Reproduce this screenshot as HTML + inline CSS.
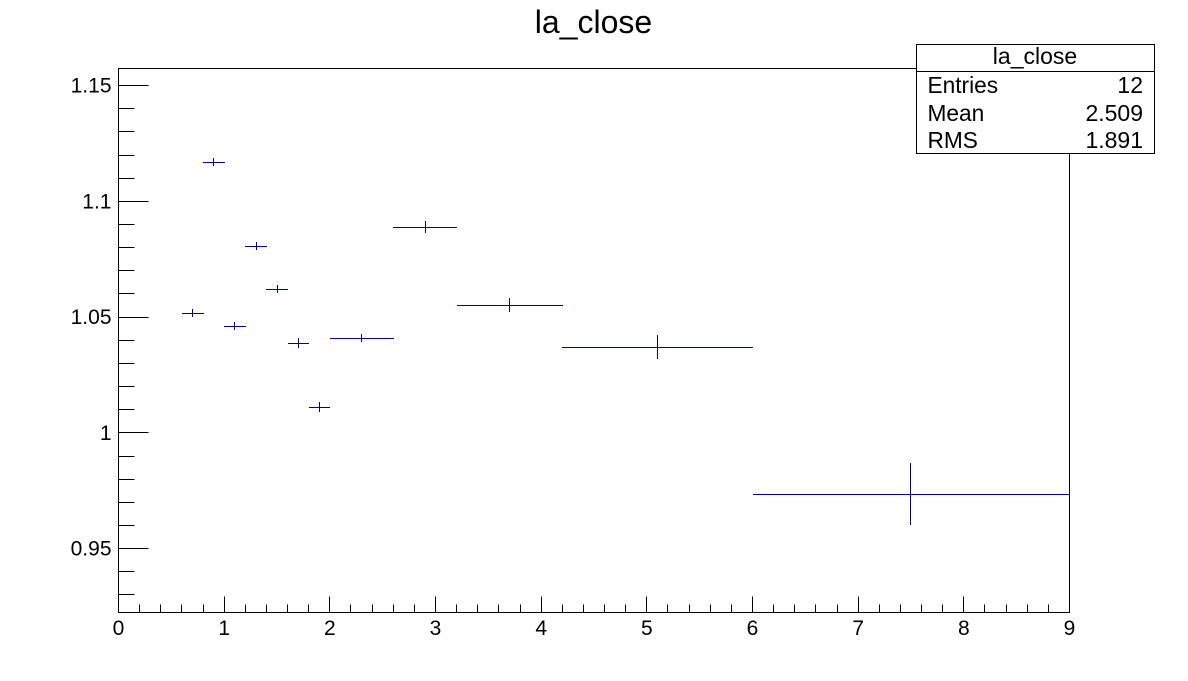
<!DOCTYPE html>
<html>
<head>
<meta charset="utf-8">
<title>la_close</title>
<style>
html,body{margin:0;padding:0;background:#fff;}
svg{display:block;}
text{font-family:"Liberation Sans",sans-serif;fill:#000;}
</style>
</head>
<body>
<svg id="chart" xmlns="http://www.w3.org/2000/svg" width="1188" height="681" viewBox="0 0 1188 681">
  <rect x="0" y="0" width="1188" height="681" fill="#fff"/>
  <text x="593.5" y="33" font-size="32" text-anchor="middle">la_close</text>
  <g id="marks" shape-rendering="crispEdges"></g>
  <g id="axes"></g>
  <rect x="118.5" y="68.5" width="951" height="544" fill="none" stroke="#000" stroke-width="1" shape-rendering="crispEdges"/>
  <g>
    <rect x="916.5" y="44.5" width="238" height="109" fill="#fff" stroke="#000" shape-rendering="crispEdges"/>
    <line x1="916.5" x2="1154.5" y1="71.5" y2="71.5" stroke="#000" shape-rendering="crispEdges"/>
    <text x="1035" y="64" font-size="23" text-anchor="middle">la_close</text>
    <text x="927.5" y="93" font-size="22.7">Entries</text>
    <text x="1143" y="93" font-size="23" text-anchor="end">12</text>
    <text x="927.5" y="121" font-size="22.7">Mean</text>
    <text x="1143" y="121" font-size="23" text-anchor="end">2.509</text>
    <text x="927.5" y="148" font-size="22.7">RMS</text>
    <text x="1143" y="148" font-size="23" text-anchor="end">1.891</text>
  </g>
</svg>
<script>
const binEdges = [0.6, 0.8, 1.0, 1.2, 1.4, 1.6, 1.8, 2.0, 2.6, 3.2, 4.2, 6.0, 9.0];
const pointCenters = [0.7, 0.9, 1.1, 1.305, 1.5, 1.7, 1.9, 2.3, 2.905, 3.7, 5.1, 7.495];
const pointValues = [1.0516, 1.1168, 1.0460, 1.0805, 1.0619, 1.0386, 1.0110, 1.0408, 1.0887, 1.0550, 1.0369, 0.9734];
const pointErrors = [0.0017, 0.0017, 0.0017, 0.0017, 0.0019, 0.0023, 0.0023, 0.0019, 0.0026, 0.0032, 0.0052, 0.0134];
const xMajorTicks = [0, 1, 2, 3, 4, 5, 6, 7, 8, 9];
const xTickLabels = ['0', '1', '2', '3', '4', '5', '6', '7', '8', '9'];
const yMajorTicks = [0.95, 1.0, 1.05, 1.1, 1.15];
const yTickLabels = ['0.95', '1', '1.05', '1.1', '1.15'];

const NS = 'http://www.w3.org/2000/svg';
const markColor = '#000099';
const plotLeft = 118.5, plotRight = 1069.5, plotBottom = 612.5;
function xScale(v) { return plotLeft + (v / 9) * (plotRight - plotLeft); }
function yScale(v) { return 432.4 - (v - 1) * 2315; }
function snapX(p) { return Math.floor(p) + 0.5; }
function snapY(p) { return Math.round(p) + 0.5; }
function makeLine(parent, x1, y1, x2, y2, color) {
  const l = document.createElementNS(NS, 'line');
  l.setAttribute('x1', x1);
  l.setAttribute('y1', y1);
  l.setAttribute('x2', x2);
  l.setAttribute('y2', y2);
  l.setAttribute('stroke', color);
  l.setAttribute('stroke-width', '1');
  l.setAttribute('shape-rendering', 'crispEdges');
  parent.appendChild(l);
  return l;
}
function makeLabel(parent, x, y, anchor, str) {
  const t = document.createElementNS(NS, 'text');
  t.setAttribute('x', x);
  t.setAttribute('y', y);
  t.setAttribute('font-size', '21');
  t.setAttribute('text-anchor', anchor);
  t.textContent = str;
  parent.appendChild(t);
  return t;
}

const axes = document.getElementById('axes');
const marks = document.getElementById('marks');

xMajorTicks.forEach(function (v, i) {
  const px = snapX(xScale(v));
  const tick = makeLine(axes, px, plotBottom, px, plotBottom - 16, '#000');
  
  
  const label = makeLabel(axes, xScale(v), 635, 'middle', xTickLabels[i]);
  
  
  if (i < xMajorTicks.length - 1) {
    for (let k = 1; k < 5; k++) {
      const mx = snapX(xScale(v + k * 0.2));
      const minor = makeLine(axes, mx, plotBottom, mx, plotBottom - 8, '#000');
      
      
    }
  }
});

yMajorTicks.forEach(function (v, i) {
  const py = snapY(yScale(v));
  const tick = makeLine(axes, plotLeft, py, plotLeft + 30, py, '#000');
  
  
  const label = makeLabel(axes, 111.5, yScale(v) + 7.4, 'end', yTickLabels[i]);
  
  
});
for (let n = 93; n <= 115; n++) {
  if (n % 5 === 0) continue;
  const my = snapY(yScale(n / 100));
  const minor = makeLine(axes, plotLeft, my, plotLeft + 16, my, '#000');
  
  
}

pointValues.forEach(function (v, i) {
  const cx = snapX(xScale(pointCenters[i]));
  const cy = snapY(yScale(v));
  const g = document.createElementNS(NS, 'g');
  
  
  marks.appendChild(g);
  const hBar = makeLine(g, Math.round(xScale(binEdges[i])), cy, Math.floor(xScale(binEdges[i + 1])) + 1, cy, markColor);
  
  
  const vBar = makeLine(g, cx, Math.round(yScale(v + pointErrors[i])), cx, Math.round(yScale(v - pointErrors[i])), markColor);
  
  
});
</script>
</body>
</html>
